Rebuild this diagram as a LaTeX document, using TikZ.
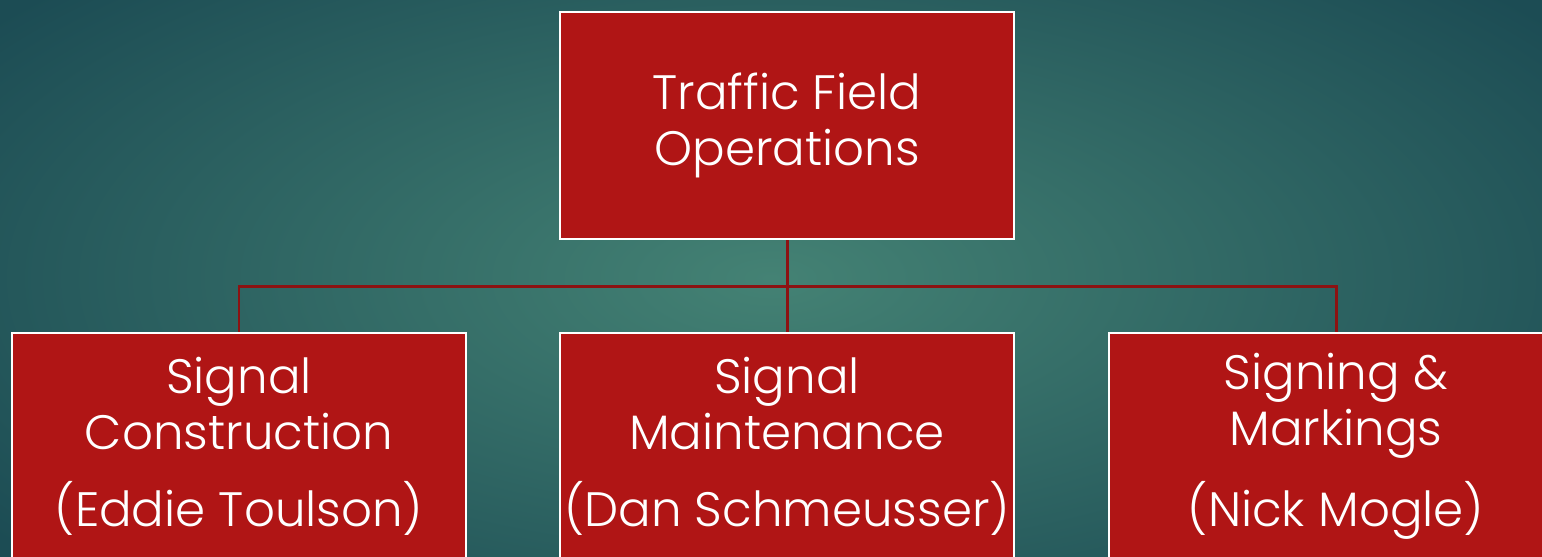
\documentclass[tikz,border=0pt]{standalone}
\usepackage{fontspec}
\setmainfont{Poppins}[UprightFont=* Light]
\definecolor{bgin}{RGB}{68,130,116}
\definecolor{bgout}{RGB}{28,76,84}
\definecolor{unitred}{RGB}{176,21,21}
\definecolor{linkred}{RGB}{140,18,18}

\begin{document}
\begin{tikzpicture}[x=0.02cm,y=-0.02cm,
  unit/.style={draw=white,line width=1.4pt,fill=unitred,text=white,align=center,
    minimum width=9.08cm,minimum height=4.54cm,inner sep=0pt,
    font=\fontsize{27.5}{32}\selectfont},
  link/.style={draw=linkred,line width=1.7pt}]
 \useasboundingbox (0,0) rectangle (1542,556);
 \clip (0,0) rectangle (1542,556);
 \shade[inner color=bgin,outer color=bgout] (-200,-150) rectangle (1742,706);

 \node[unit] (tfo) at (787,125.5) {Traffic Field\\Operations};
 \node[unit] (sc) at (239,446.5) {Signal\\Construction\\[12pt](Eddie Toulson)};
 \node[unit] (sm) at (787,446.5) {Signal\\Maintenance\\[12pt](Dan Schmeusser)};
 \node[unit] (sgm) at (1336,446.5) {Signing \&\\Markings\\[12pt](Nick Mogle)};

 \coordinate (bus) at (787,286);
 \draw[link] (tfo.south) -- (bus) -| (sc.north);
 \draw[link] (bus) -- (sm.north);
 \draw[link] (bus) -| (sgm.north);
\end{tikzpicture}
\end{document}
